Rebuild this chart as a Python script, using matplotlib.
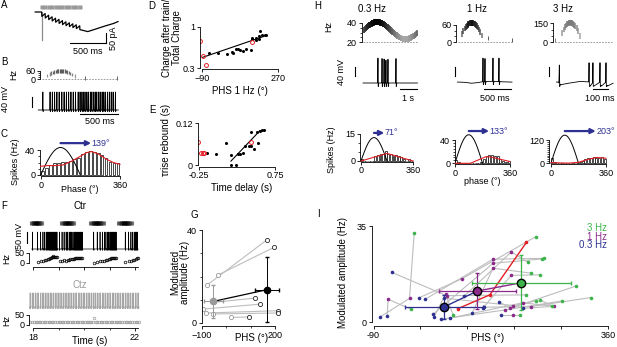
import numpy as np
import matplotlib
matplotlib.use("Agg")
import matplotlib.pyplot as plt

plt.rcParams['font.family'] = ['Liberation Sans', 'DejaVu Sans']
plt.rcParams['font.size'] = 6.5
plt.rcParams['axes.linewidth'] = 0.6
for a in ['xtick', 'ytick']:
    plt.rcParams[a + '.major.width'] = 0.6
    plt.rcParams[a + '.minor.width'] = 0.5
    plt.rcParams[a + '.major.size'] = 2.2
    plt.rcParams[a + '.minor.size'] = 1.4
    plt.rcParams[a + '.major.pad'] = 1.2
    plt.rcParams[a + '.labelsize'] = 6.5

BLUE = '#2e3192'
RED = '#e31e24'
GREEN = '#3cb44b'
PURPLE = '#8b2a8b'
LGRAY = '#bdbdbd'

# ---------------- data ----------------
# A: synaptic current during the train (ms, pA)
a_stim_t = [0, 48, 96, 144, 192, 240, 288, 336, 384, 432, 480, 528]
a_low = [-22, -30, -38, -45, -51, -57, -63, -68, -73, -78, -83, -88]
a_high = [-8, -16, -24, -31, -37, -43, -49, -54, -59, -64, -69]
a_tail_t = [640, 760, 880, 1000, 1060]
a_tail_i = [-98, -84, -70, -57, -48]
a_artifact = -140

# B: 1 Hz half-cycle stimulus (peak Hz, half period ms) and firing
b_peak_hz = 62
b_half_ms = 500
b_extra_t = [570, 995]
b_extra_hz = [12, 10]
b_spk = [15, 110, 140, 170, 200, 230, 265, 295, 325, 355, 385, 415, 445, 480, 505,
         530, 550, 570, 595, 615, 640, 660, 685, 705, 725, 750, 770, 795, 815, 835,
         865, 890, 915, 940, 970]

# C: phase histogram (20 bins of 18 deg)
c_hist = [7, 11, 16, 19, 20, 21, 21, 23, 25, 28, 34, 37, 38, 37, 35, 32, 27, 21, 20, 19]
c_red_x = [0, 30, 60, 100, 140, 180, 210, 230, 260, 300, 330, 360]
c_red_y = [14, 15, 15, 16, 22, 30, 36, 37.5, 34, 25, 20, 17]
c_stim_peak = 44
c_phs = 139

# D: charge ratio vs PHS
d_black_x = [-59, -16, 30, 51, 56, 71, 82, 90, 102, 118, 142, 145, 148, 165, 168, 178, 181, 184, 192, 207, 215]
d_black_y = [0.47, 0.47, 0.45, 0.48, 0.46, 0.52, 0.52, 0.51, 0.50, 0.53, 0.51, 0.70, 0.73, 0.68, 0.72, 0.70, 0.76, 0.88, 0.78, 0.79, 0.80]
d_red_x = [-101, -87, -70, 145]
d_red_y = [0.67, 0.425, 0.33, 0.64]
d_fit_x = [-87, 204]
d_fit_y = [0.41, 0.76]

# E: tau rise vs time delay
e_black_x = [-0.153, -0.034, 0.102, 0.168, 0.168, 0.234, 0.256, 0.287, 0.322, 0.353, 0.406, 0.428,
             0.432, 0.476, 0.507, 0.529, 0.551, 0.582, 0.604]
e_black_y = [0.034, 0.031, 0.063, 0.030, 0.0, 0.0, 0.031, 0.032, 0.034, 0.056, 0.056, 0.056,
             0.094, 0.047, 0.094, 0.065, 0.099, 0.101, 0.101]
e_red_x = [-0.272, -0.232, -0.206, -0.184, 0.432]
e_red_y = [0.068, 0.036, 0.036, 0.036, 0.068]
e_fit_x = [0.168, 0.551]
e_fit_y = [0.012, 0.099]

# F: control vs Ctz (s)
f_blocks_on = [17.80, 18.98, 20.12, 21.22]
f_blocks_off = [18.47, 19.73, 20.90, 22.00]
f_ctr_spk = [17.98, 18.18, 18.30, 18.39, 18.46, 18.52, 18.575, 18.62, 18.66, 18.70, 18.735, 18.77,
             18.80, 18.835, 18.87, 18.905, 18.94,
             19.04, 19.14, 19.22, 19.30, 19.36, 19.42, 19.47, 19.52, 19.57, 19.62, 19.66, 19.70,
             19.74, 19.78, 19.82, 19.86, 19.90, 19.94,
             20.38, 20.52, 20.63, 20.72, 20.80, 20.86, 20.92, 20.97, 21.02, 21.06, 21.10, 21.14,
             21.18, 21.22, 21.26,
             21.62, 21.75, 21.84, 21.91, 21.97, 22.02, 22.06, 22.10]
f_ctz_spk = [17.84, 17.90, 17.97, 18.03, 18.10, 18.16, 18.22, 18.29, 18.36, 18.42, 18.48, 18.55,
             18.62, 18.68, 18.74, 18.80, 18.87, 18.94, 19.00, 19.06, 19.13, 19.19, 19.26, 19.33,
             19.39, 19.45, 19.52, 19.58, 19.65, 19.71, 19.78, 19.84, 19.91, 19.97, 20.03, 20.10,
             20.16, 20.23, 20.29, 20.36, 20.39, 20.46, 20.52, 20.59, 20.65, 20.72, 20.78, 20.85,
             20.91, 20.98, 21.04, 21.11, 21.17, 21.24, 21.30, 21.37, 21.43, 21.50, 21.56, 21.63,
             21.69, 21.76, 21.82, 21.89, 21.95, 22.02, 22.08, 22.14]

# G: 0.3 Hz -> 1 Hz pairs
g_lo_x = [-77, -32, -93, -82, -52, 20, -50]
g_lo_y = [16.4, 20.7, 6.0, 4.3, 3.9, 2.4, 8.9]
g_hi_x = [166, 197, 139, 214, 214, 95, 118]
g_hi_y = [35.7, 32.6, 8.1, 5.3, 4.3, 2.6, 10.7]
g_mean_x = [-52, 166]
g_mean_y = [9.3, 14.3]
g_err_x = [40, 49]
g_err_y = [7, 14]

# H: example cell at 0.3, 1, 3 Hz
h_titles = ['0.3 Hz', '1 Hz', '3 Hz']
h1_mean, h1_amp, h1_freq = 32, 9, 0.3
h2_peak, h3_peak = 68, 155
h1_spk = [0.88, 1.12, 1.24, 1.35, 1.47, 1.94]
h1_peak = [42, 40, 38, 33, 37, 40]
h2_spk = [463, 500, 648, 759]
h2_peak_mv = [42, 40, 42, 42]
h2_bt = [-10, 120, 250, 380, 440, 560, 700, 850, 1000]
h2_bv = [-61, -62, -66, -63, -60, -58, -58, -60, -61]
h3_spk = [9, 207, 233, 280, 320]
h3_peak_mv = [12, 22, 22, 22, 22]
h3_bt = [-10, 0, 20, 80, 150, 200, 215, 228, 240, 275, 290, 315, 330, 367]
h3_bv = [-61, -61, -72, -65, -58, -54, -78, -62, -78, -60, -78, -60, -78, -66]
h_hist = [[1, 0, 0, 0, 0, 3, 3.5, 4, 4, 5.5, 4, 4, 3, 3.5, 3, 2, 1, 0, 1, 0],
          [6, 3, 0, 0, 0, 0, 0, 0, 0, 2, 8, 12, 14, 14, 13, 12, 8, 4, 3, 4],
          [25, 5, 0, 0, 0, 0, 0, 0, 0, 0, 5, 12, 22, 25, 28, 30, 28, 26, 30, 20]]
h_red_x = [[0, 180, 360], [0, 100, 200, 230, 360], [0, 60, 120, 180, 240, 300, 360]]
h_red_y = [[0, 4.2, 0], [0, 0, 11, 11, 3], [4, 2, 1, 5, 20, 30, 26]]
h_stim_peak = [13, 49, 145]
h_phs = [71, 133, 203]

# I: population, blue=0.3 Hz, purple=1 Hz, green=3 Hz
i_b_x = [-77, -64, -55, -3, 9, 24, 26, 39, 84, 99, 119, 121, 151, 154, 196, 56, 45]
i_b_y = [1.9, 2.1, 18.1, 8.8, 8.3, 2.8, 1.9, 1.0, 9.5, 3.2, 5.0, 5.4, 7.4, 2.6, 5.0, 1.4, 8.7]
i_p_x = [-21, -62, 50, 80, 139, 139, 48, 162, 174, 139, 174, 211, 172, 178, 255, 196, 178]
i_p_y = [8.6, 8.3, 9.6, 15.8, 22.9, 21.4, 10.1, 4.4, 25.5, 19.6, 17.0, 5.6, 5.0, 2.6, 5.7, 7.0, 6.0]
i_g_x = [-12, -19, 203, 221, 236, 233, 63, 272, 206, 212, 230, 326, 298, 190, 230, 252, 222]
i_g_y = [32.4, 4.7, 9.9, 31.1, 23.2, 23.0, 2.4, 7.7, 21.8, 17.8, 17.2, 8.9, 13.1, 2.6, 8.0, 5.8, 7.7]
i_red_x = [71, 133, 203]
i_red_y = [4.8, 9.9, 29]
i_mean_x = [45.5, 109, 193]
i_mean_y = [5.5, 11.3, 14.3]
i_err_x = [75, 74, 95]
i_err_y = [4.5, 6.7, 10]

# ---------------- helpers ----------------
W, H = 617, 347
fig = plt.figure(figsize=(W / 100, H / 100), dpi=100)


def frame(x0, y0, x1, y1, xref, yref, log=False):
    ax = fig.add_axes([x0 / W, 1 - y1 / H, (x1 - x0) / W, (y1 - y0) / H])
    ax.patch.set_visible(False)
    for s in ['top', 'right']:
        ax.spines[s].set_visible(False)
    pa, va, pb, vb = xref
    k = (vb - va) / (pb - pa)
    ax.set_xlim(va + (x0 - pa) * k, va + (x1 - pa) * k)
    pa, va, pb, vb = yref
    if log:
        va, vb = np.log10(va), np.log10(vb)
    k = (vb - va) / (pb - pa)
    lo, hi = va + (y1 - pa) * k, va + (y0 - pa) * k
    if log:
        ax.set_yscale('log')
        ax.set_ylim(10 ** lo, 10 ** hi)
    else:
        ax.set_ylim(lo, hi)
    return ax


def txt(x, y, s, **kw):
    kw.setdefault('ha', 'center')
    kw.setdefault('va', 'center')
    fig.text(x / W, 1 - y / H, s, **kw)


def pulses(rate, t0, t1):
    tt = np.linspace(t0, t1, 20001)
    r = rate(tt)
    cum = np.concatenate([[0], np.cumsum((r[1:] + r[:-1]) / 2 * np.diff(tt))])
    k = np.arange(1, np.floor(cum[-1]) + 1)
    idx = np.clip(np.searchsorted(cum, k), 0, len(tt) - 1)
    return tt[idx], r[idx]


def spiky(bt, bv, spk, peak, ahp, e):
    bt = np.asarray(bt, float)
    bv = np.asarray(bv, float)
    pts = [(a, b) for a, b in zip(bt, bv) if all(abs(a - s) > 2.5 * e for s in spk)]
    if np.ndim(peak) == 0:
        peak = [peak] * len(spk)
    for s, p in zip(spk, peak):
        pts += [(s - e, np.interp(s - e, bt, bv)), (s, p), (s + 0.8 * e, ahp),
                (s + 2.5 * e, np.interp(s + 2.5 * e, bt, bv))]
    pts.sort()
    return [p[0] for p in pts], [p[1] for p in pts]


def band(ax, t, f, fmax, dark, light, ms, lw=0.9):
    cols = [str(light - (light - dark) * v / fmax) for v in f]
    ax.scatter(t, f, marker='|', s=ms ** 2, c=cols, linewidths=lw, zorder=3)


def histo(ax, hist, red_x, red_y, peak, phs, ay):
    cx = np.arange(9, 360, 18)
    ax.bar(cx, hist, width=12, color='white', edgecolor='k', linewidth=0.5, zorder=2)
    xs = np.linspace(0, 180, 60)
    ax.plot(xs, peak * np.sin(np.pi * xs / 180), color='k', lw=0.7, zorder=3)
    ax.plot(red_x, red_y, color=RED, lw=0.8, zorder=4)
    ax.annotate('', xy=(90 + phs, ay), xytext=(90, ay), annotation_clip=False,
                arrowprops=dict(arrowstyle='-|>', color=BLUE, lw=1.6, mutation_scale=7,
                                shrinkA=0, shrinkB=0))
    ax.text(92 + phs, ay, '%d°' % phs, color=BLUE, ha='left', va='center', clip_on=False)
    ax.set_xticks([0, 360])
    ax.spines['bottom'].set_bounds(0, 360)


# ---------------- A ----------------
axA = frame(30, 2, 125, 50, (41.7, 0, 77.7, 500), (12, 0, 22, -50))
axA.axis('off')
xs, ys = [-90, -1], [0, 0]
for k, t in enumerate(a_stim_t):
    xs.append(t + 2)
    ys.append(a_low[k])
    if k < len(a_high):
        xs.append(a_stim_t[k + 1])
        ys.append(a_high[k])
xs += a_tail_t
ys += a_tail_i
axA.plot([0, 0], [0, a_artifact], color='0.55', lw=0.9)
axA.plot(xs, ys, color='k', lw=0.9)
axA.plot(a_stim_t, [27] * len(a_stim_t), 's', ms=2.2, color='0.6', mec='none')
axA.plot([393, 893], [-156, -156], 'k', lw=0.8)
axA.plot([893, 893], [-156, -106], 'k', lw=0.8)
txt(88, 52, '500 ms')
txt(114, 38, '50 pA', rotation=90)

# ---------------- B ----------------
axB1 = frame(40, 64, 122, 82, (41.7, 0, 79.7, 500), (79.3, 0, 71, 60))
pt, pf = pulses(lambda t: b_peak_hz * np.sin(np.pi * t / (b_half_ms / 1000)), 0, b_half_ms / 1000)
band(axB1, pt * 1000, pf, b_peak_hz, 0.35, 0.75, 2.6)
axB1.scatter(b_extra_t, b_extra_hz, marker='|', s=5, c='0.4', linewidths=0.7)
axB1.plot([0, 1000], [0, 0], color='0.55', lw=0.6, ls=(0, (2, 1.5)))
axB1.spines['bottom'].set_visible(False)
axB1.set_xticks([])
axB1.set_yticks([0, 60])
axB1.set_yticks([15, 30, 45], minor=True)
axB1.spines['left'].set_bounds(0, 60)
txt(14, 75, 'Hz', rotation=90)

axB2 = frame(30, 86, 122, 124, (41.7, 0, 79.7, 500), (110, -60, 100, -20))
axB2.axis('off')
vx, vy = spiky([-45, 1008], [-60, -60], b_spk, 12, -66, 4)
axB2.plot(vx, vy, color='k', lw=0.6)
axB2.plot([-128, -128], [-48, -8], 'k', lw=0.8)
axB2.plot([503, 1003], [-74, -74], 'k', lw=0.8)
txt(6, 99, '40 mV', rotation=90)
txt(100, 122, '500 ms')

# ---------------- C ----------------
axC = frame(40, 145, 121, 176, (40.7, 0, 120, 360), (175, 0, 150, 40))
histo(axC, c_hist, c_red_x, c_red_y, c_stim_peak, c_phs, 51)
axC.set_yticks([0, 40])
axC.set_yticks([10, 20, 30], minor=True)
axC.spines['left'].set_bounds(0, 40)
txt(15, 162, 'Spikes (Hz)', rotation=90)
txt(80, 190, 'Phase (°)')

# ---------------- D ----------------
axD = frame(200, 20, 285, 69, (202, -90, 278, 270), (27, 1, 68, 0.3), log=True)
axD.plot(d_fit_x, d_fit_y, color='k', lw=0.8)
axD.plot(d_black_x, d_black_y, 'o', ms=2.2, color='k', mec='none')
axD.plot(d_red_x, d_red_y, 'o', ms=2.8, mfc='none', mec=RED, mew=0.7)
axD.set_yticks([0.3, 1])
axD.set_yticklabels(['0.3', '1'])
axD.yaxis.set_minor_locator(matplotlib.ticker.NullLocator())
axD.set_xticks([-90, 270])
axD.spines['bottom'].set_bounds(-90, 270)
axD.spines['left'].set_bounds(0.3, 1)
txt(172, 38, 'Charge after train/\nTotal Charge', rotation=90, fontsize=7, linespacing=1.0)
txt(240, 91, 'PHS 1 Hz (°)', fontsize=7)

# ---------------- E ----------------
axE = frame(197.7, 118, 282, 166.7, (199.3, -0.25, 275, 0.75), (165.3, 0, 123.3, 0.12))
axE.plot(e_fit_x, e_fit_y, color='k', lw=0.8)
axE.plot(e_black_x, e_black_y, 'o', ms=2.2, color='k', mec='none')
axE.plot(e_red_x, e_red_y, 'o', ms=2.8, mfc='none', mec=RED, mew=0.7)
axE.set_xticks([-0.25, 0.75])
axE.set_xticklabels(['-0.25', '0.75'])
axE.set_yticks([0, 0.12])
axE.set_yticklabels(['0', '0.12'])
axE.spines['bottom'].set_bounds(-0.25, 0.75)
axE.spines['left'].set_bounds(0, 0.12)
txt(166, 140, 'τrise rebound (s)', rotation=90, fontsize=7)
txt(242, 188, 'Time delay (s)', fontsize=7)

# ---------------- F ----------------
fx = (33, 18, 135, 22)
axF1 = frame(29.3, 216, 140, 252, fx, (249, -60, 238, -10))
axF1.axis('off')
for on, off in zip(f_blocks_on, f_blocks_off):
    d = off - on
    pt, pf = pulses(lambda t, d=d: 60 * np.sin(np.pi * t / d), 0, d)
    cols = [str(0.7 - 0.7 * v / 60) for v in pf]
    axF1.scatter(pt + on, [58] * len(pt), marker='|', s=7, c=cols, linewidths=0.8)
vx, vy = spiky([17.95, 22.12], [-60, -60], f_ctr_spk, 17, -66, 0.006)
axF1.plot(vx, vy, color='k', lw=0.5)
axF1.plot([17.765, 17.765], [-32.7, 17.3], 'k', lw=0.8, clip_on=False)
txt(19, 236, '50 mV', rotation=90)
txt(80, 206, 'Ctr', fontsize=7)

axF2 = frame(29.3, 250, 140, 266.7, fx, (263, 0, 253, 50))
fr = 1 / np.diff(f_ctr_spk)
axF2.plot(f_ctr_spk[1:], fr, 'o', ms=1.9, mfc='none', mec='k', mew=0.5)
axF2.set_xticks([18, 19, 20, 21, 22])
axF2.set_xticklabels([])
axF2.set_yticks([0, 50])
axF2.spines['left'].set_bounds(0, 50)
axF2.spines['bottom'].set_bounds(18, 22.1)
txt(7, 259, 'Hz', rotation=90)

axF3 = frame(29.3, 288, 140, 310, fx, (307, -60, 296, -10))
axF3.axis('off')
vx, vy = spiky([17.82, 22.16], [-60, -60], f_ctz_spk, 4, -68, 0.006)
axF3.plot(vx, vy, color='0.65', lw=0.5)
txt(80, 285, 'Ctz', color='0.6', fontsize=7)

axF4 = frame(29.3, 311, 140, 328.3, fx, (325, 0, 315, 50))
fr = 1 / np.diff(f_ctz_spk)
axF4.plot(f_ctz_spk[1:], fr, 'o', ms=1.9, mfc='none', mec='0.6', mew=0.5)
axF4.set_xticks([18, 22])
axF4.set_xticks([19, 20, 21], minor=True)
axF4.set_yticks([0, 50])
axF4.spines['left'].set_bounds(0, 50)
axF4.spines['bottom'].set_bounds(18, 22.1)
txt(7, 320, 'Hz', rotation=90)
txt(90, 341, 'Time (s)', fontsize=7)

# ---------------- G ----------------
axG = frame(201.7, 224, 288, 326, (201.7, -100, 275, 200), (323, 0, 230, 40))
for x0, y0, x1, y1 in zip(g_lo_x, g_lo_y, g_hi_x, g_hi_y):
    axG.plot([x0, x1], [y0, y1], color=LGRAY, lw=0.8, zorder=1)
axG.plot(g_lo_x, g_lo_y, 'o', ms=3, mfc='white', mec='0.6', mew=0.6, zorder=2)
axG.plot(g_hi_x, g_hi_y, 'o', ms=3, mfc='white', mec='0.15', mew=0.6, zorder=2)
axG.plot(g_mean_x, g_mean_y, color='k', lw=0.9, zorder=3)
axG.errorbar(g_mean_x[0], g_mean_y[0], xerr=g_err_x[0], yerr=g_err_y[0], fmt='o', ms=4.5,
             color='0.6', lw=0.7, capsize=1.5, zorder=4)
axG.errorbar(g_mean_x[1], g_mean_y[1], xerr=g_err_x[1], yerr=g_err_y[1], fmt='o', ms=4.5,
             color='k', lw=0.7, capsize=1.5, zorder=4)
axG.set_xticks([-100, 200])
axG.set_xticks([0, 100], minor=True)
axG.set_yticks([0, 40])
axG.set_yticks([10, 20, 30], minor=True)
axG.spines['bottom'].set_bounds(-100, 200)
axG.spines['left'].set_bounds(0, 40)
txt(180, 272, 'Modulated\namplitude (Hz)', rotation=90, fontsize=7, linespacing=0.95)
txt(252, 338, 'PHS (°)', fontsize=7)

# ---------------- H top ----------------
axH1 = frame(361.7, 14, 420, 44, (363, 0, 380, 1), (42, 20, 23, 40))
pt, pf = pulses(lambda t: h1_mean + h1_amp * np.sin(2 * np.pi * h1_freq * t), 0, 3.2)
cols = [str(0.65 - 0.65 * (v - (h1_mean - h1_amp)) / (2 * h1_amp)) for v in pf]
axH1.scatter(pt, pf, marker='|', s=18, c=cols, linewidths=1.2)
axH1.plot([0, 3.2], [20, 20], color='0.55', lw=0.6, ls=(0, (2, 1.5)))
axH1.set_yticks([20, 40])
axH1.set_yticks([25, 30, 35], minor=True)
axH1.spines['left'].set_bounds(20, 40)
axH1.spines['bottom'].set_visible(False)
axH1.set_xticks([])
txt(329, 27, 'Hz', rotation=90)

axH2 = frame(456, 14, 514, 44, (458, 0, 485, 500), (42, 0, 25, 60))
pt, pf = pulses(lambda t: h2_peak * np.sin(np.pi * t / 0.5), 0, 0.5)
band(axH2, pt * 1000, pf, h2_peak, 0.05, 0.65, 4, lw=1.1)
axH2.scatter([560, 1000], [13, 8], marker='|', s=6, c='0.35', linewidths=0.7)
axH2.plot([0, 1000], [0, 0], color='0.55', lw=0.6, ls=(0, (2, 1.5)))
axH2.set_yticks([0, 60])
axH2.set_yticks([20, 40], minor=True)
axH2.spines['left'].set_bounds(0, 60)
axH2.spines['bottom'].set_visible(False)
axH2.set_xticks([])

axH3 = frame(552.7, 14, 614, 44, (558, 0, 573, 100), (42, 0, 23.3, 150))
pt, pf = pulses(lambda t: h3_peak * np.sin(np.pi * t / (1 / 6)), 0, 1 / 6)
band(axH3, pt * 1000, pf, h3_peak, 0.45, 0.75, 4, lw=1.1)
axH3.scatter([-20], [20], marker='|', s=6, c='0.5', linewidths=0.7)
axH3.plot([-20, 360], [0, 0], color='0.55', lw=0.6, ls=(0, (2, 1.5)))
axH3.set_yticks([0, 150])
axH3.set_yticks([50, 100], minor=True)
axH3.spines['left'].set_bounds(0, 150)
axH3.spines['bottom'].set_visible(False)
axH3.set_xticks([])

for x, t in zip([372, 477, 563], h_titles):
    txt(x, 9, t, fontsize=7)

# ---------------- H voltage ----------------
mv = (83, -65, 73.7, -25)
axV1 = frame(345, 50, 420, 100, (363, 0, 380, 1), mv)
axV1.axis('off')
vx, vy = spiky([0, 3.2], [-65, -65], h1_spk, h1_peak, -80, 0.02)
axV1.plot(vx, vy, color='k', lw=0.6)
axV1.plot([-0.47, -0.47], [-35, 5], 'k', lw=0.8)
axV1.plot([2.18, 3.18], [-91, -91], 'k', lw=0.8)
txt(342, 72, '40 mV', rotation=90)
txt(408, 98, '1 s')

axV2 = frame(450, 50, 516, 100, (458, 0, 485, 500), mv)
axV2.axis('off')
vx, vy = spiky(h2_bt, h2_bv, h2_spk, h2_peak_mv, -72, 8)
axV2.plot(vx, vy, color='k', lw=0.6)
axV2.plot([-56, -56], [-35, 5], 'k', lw=0.8)
axV2.plot([481, 981], [-91, -91], 'k', lw=0.8)
txt(495, 98, '500 ms')

axV3 = frame(545, 50, 616, 100, (558, 0, 573, 100), mv)
axV3.axis('off')
vx, vy = spiky(h3_bt, h3_bv, h3_spk, h3_peak_mv, -80, 3)
axV3.plot(vx, vy, color='k', lw=0.6)
axV3.plot([-60, -60], [-35, 5], 'k', lw=0.8)
axV3.plot([233, 333], [-91, -91], 'k', lw=0.8)
txt(600, 98, '100 ms')

# ---------------- H histograms ----------------
hl = [frame(360, 126, 416, 161.7, (361, 0, 413, 360), (161, 0, 134, 15)),
      frame(455, 126, 512, 164, (455, 0, 510, 360), (163.3, 0, 140, 40)),
      frame(549.3, 126, 612, 164, (551, 0, 606, 360), (163.3, 0, 140, 120))]
ytop = [15, 40, 120]
yarrow = [15.6, 55.4, 166]
yminor = [[5, 10], list(range(5, 40, 5)), list(range(10, 120, 10))]
for i, ax in enumerate(hl):
    histo(ax, h_hist[i], h_red_x[i], h_red_y[i], h_stim_peak[i], h_phs[i], yarrow[i])
    ax.set_yticks([0, ytop[i]])
    ax.set_yticks(yminor[i], minor=True)
    ax.spines['left'].set_bounds(0, ytop[i])
txt(332, 150, 'Spikes (Hz)', rotation=90)
txt(482, 182, 'phase (°)')

# ---------------- I ----------------
axI = frame(371.7, 222, 612, 326, (373.5, -90, 608.3, 360), (322, 0, 226, 35))
for k in range(len(i_b_x)):
    axI.plot([i_b_x[k], i_p_x[k], i_g_x[k]], [i_b_y[k], i_p_y[k], i_g_y[k]],
             color=LGRAY, lw=0.8, zorder=1)
axI.plot(i_b_x, i_b_y, 'o', ms=2.6, color=BLUE, mec='none', zorder=2)
axI.plot(i_p_x, i_p_y, 'o', ms=2.6, color=PURPLE, mec='none', zorder=2)
axI.plot(i_g_x, i_g_y, 'o', ms=2.6, color=GREEN, mec='none', zorder=2)
axI.plot(i_red_x, i_red_y, '-o', color=RED, lw=1.0, ms=2.6, mec='none', zorder=3)
cols = [BLUE, PURPLE, GREEN]
for k in range(2):
    axI.plot(i_mean_x[k:k + 2], i_mean_y[k:k + 2], color=cols[k], lw=1.0, zorder=4)
for k in range(3):
    axI.errorbar(i_mean_x[k], i_mean_y[k], xerr=i_err_x[k], yerr=i_err_y[k], fmt='none',
                 ecolor=cols[k], elinewidth=0.9, capsize=1.5, zorder=4)
    axI.plot(i_mean_x[k], i_mean_y[k], 'o', ms=6, mfc=cols[k], mec='k', mew=1.0, zorder=5)
axI.set_xticks([-90, 0, 90, 180, 270, 360])
axI.set_xticklabels(['-90', '', '', '', '', '360'])
axI.set_yticks([0, 35])
axI.spines['bottom'].set_bounds(-90, 360)
axI.spines['left'].set_bounds(0, 35)
txt(343, 273, 'Modulated amplitude (Hz)', rotation=90, fontsize=7)
txt(488, 338, 'PHS (°)', fontsize=7)
txt(607, 228, '3 Hz', color=GREEN, ha='right', fontsize=7)
txt(607, 236.5, '1 Hz', color=PURPLE, ha='right', fontsize=7)
txt(607, 245, '0.3 Hz', color=BLUE, ha='right', fontsize=7)

# ---------------- panel letters ----------------
for s, x, y in [('A', 4, 5), ('B', 4, 62), ('C', 4, 134), ('D', 152, 6), ('E', 152, 110),
                ('F', 4, 206), ('G', 194, 215), ('H', 318, 6), ('I', 318, 214)]:
    txt(x, y, s, fontsize=7)

fig.savefig('out.png', dpi=100)
